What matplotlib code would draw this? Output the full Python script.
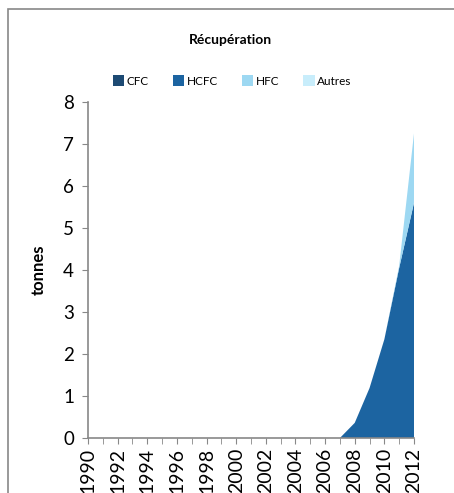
import numpy as np
import matplotlib
matplotlib.use("Agg")
import matplotlib.pyplot as plt
from matplotlib.patches import Rectangle, Patch

# ---------- data ----------
years  = list(range(1990, 2013))
cfc    = [0.0] * 23
hcfc   = [0.0] * 17 + [0.0, 0.36, 1.19, 2.35, 4.05, 5.6]
hfc    = [0.0] * 17 + [0.0, 0.0, 0.0, 0.0, 0.05, 1.65]
autres = [0.0] * 23
series = ["CFC", "HCFC", "HFC", "Autres"]
colors = ["#1d4a73", "#1c64a1", "#9dd8f2", "#c8edfb"]

plt.rcParams["font.family"] = ["Lato", "DejaVu Sans"]

fig = plt.figure(figsize=(4.54, 4.93), dpi=100)
# outer chart frame (gray)
fig.patches.append(Rectangle((8 / 454, -0.1), 1.2, 1 - 9 / 493 + 0.1,
                             transform=fig.transFigure, fill=False,
                             edgecolor="#888888", linewidth=1.2))

ax = fig.add_axes([88 / 454, 1 - 438 / 493, (414 - 88) / 454, (438 - 102) / 493])
ax.stackplot(years, cfc, hcfc, hfc, autres, colors=colors, linewidth=0)

ax.set_xlim(1990, 2012)
ax.set_ylim(0, 8)
ax.set_yticks(range(0, 9))
ax.set_xticks(range(1990, 2013, 2))
ax.set_xticks(range(1990, 2013), minor=True)
ax.tick_params(axis="x", which="both", direction="out", length=4, color="#888888",
               labelrotation=90, labelsize=14, pad=3)
ax.tick_params(axis="y", direction="out", length=4, color="#888888", labelsize=13.5, pad=6)
for side in ["top", "right"]:
    ax.spines[side].set_visible(False)
for side in ["left", "bottom"]:
    ax.spines[side].set_color("#888888")
    ax.spines[side].set_linewidth(1.2)

ax.set_ylabel("tonnes", fontsize=12, fontweight="bold", labelpad=12)
fig.text(230 / 454, 1 - 40 / 493, "Récupération", ha="center", va="center",
         fontsize=10, fontweight="bold")

handles = [Patch(facecolor=c, edgecolor="none") for c in colors]
fig.legend(handles, series, loc="center", bbox_to_anchor=(232 / 454, 1 - 81 / 493),
           ncol=4, frameon=False, fontsize=8.5, handlelength=1.0, handleheight=1.0,
           handletextpad=0.2, columnspacing=2.0)

fig.savefig("out.png", dpi=100)
